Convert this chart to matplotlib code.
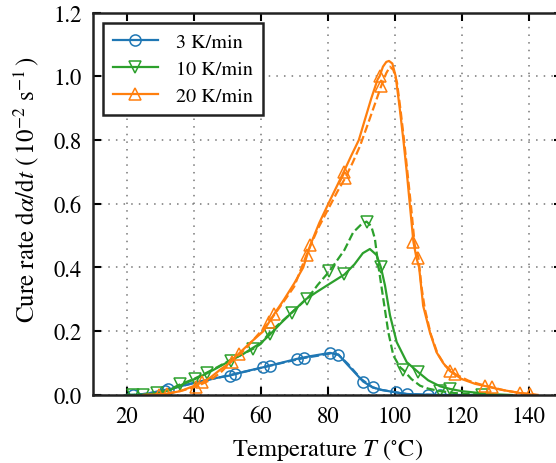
import numpy as np
import matplotlib
matplotlib.use("Agg")
import matplotlib.pyplot as plt

# 3 K/min
t3_solid = [20, 22, 26, 31.4, 36, 40, 45, 50.8, 55, 60.8, 65, 70.7, 75, 80.7, 83.2, 86, 90.6, 93.4, 96, 100.4, 103.6, 110, 113.5, 120, 130]
r3_solid = [0, 0.0, 0.004, 0.014, 0.027, 0.038, 0.05, 0.061, 0.073, 0.087, 0.098, 0.113, 0.122, 0.132, 0.127, 0.094, 0.042, 0.024, 0.016, 0.008, 0.003, 0.001, 0.0, 0, 0]
t3_dash = [20, 22, 26, 32.4, 36, 40, 45, 52.3, 57, 62.8, 67, 72.9, 77, 80.7, 83.2, 86, 90, 93.4, 96, 100, 103.6, 108, 113.5, 120, 130]
r3_dash = [0, 0, 0.004, 0.018, 0.027, 0.037, 0.049, 0.066, 0.077, 0.092, 0.102, 0.116, 0.123, 0.13, 0.126, 0.098, 0.05, 0.024, 0.016, 0.009, 0.003, 0.001, 0.0, 0, 0]
m3_solid = [22, 31.4, 50.8, 60.8, 70.7, 80.7, 90.6, 100.4, 110]
m3_dash = [32.4, 52.3, 62.8, 72.9, 83.2, 93.4, 103.6, 113.5]

# 10 K/min
t10_solid = [20, 25, 29, 33, 36, 40.4, 44, 47, 51, 55, 58.3, 60.3, 62.8, 66, 69.4, 73.7, 77, 80, 85, 88, 90.5, 92.6, 94.6, 95.9,
             97.1, 98.6, 100.6, 103.6, 107.1, 110, 113.6, 116.5, 120, 124.5, 130, 135]
r10_solid = [0, 0.0, 0.004, 0.016, 0.03, 0.05, 0.068, 0.085, 0.108, 0.13, 0.152, 0.165, 0.19, 0.225, 0.26, 0.302, 0.325, 0.345, 0.378, 0.41, 0.445, 0.458, 0.439, 0.40,
             0.344, 0.25, 0.166, 0.103, 0.071, 0.046, 0.027, 0.019, 0.012, 0.007, 0.002, 0]
t10_dash = [20, 22, 25, 29, 33, 35.9, 40, 43.9, 47, 51, 55, 57.8, 60, 62.6, 66, 69.3, 72, 74.5, 77, 80.5, 83, 85, 87.6, 90, 91.6, 93,
            94.1, 95.1, 96.6, 98.1, 99.6, 101.6, 102.6, 105, 107.6, 110, 113.6, 118, 122, 126, 130]
r10_dash = [0, 0, 0.001, 0.005, 0.018, 0.033, 0.05, 0.07, 0.087, 0.11, 0.13, 0.145, 0.16, 0.195, 0.228, 0.258, 0.285, 0.31, 0.345, 0.388, 0.425, 0.455, 0.51, 0.535, 0.544, 0.53,
            0.49, 0.407, 0.302, 0.197, 0.124, 0.087, 0.078, 0.05, 0.029, 0.02, 0.012, 0.006, 0.003, 0.001, 0]
m10_solid = [25, 40.4, 51, 62.8, 73.7, 85, 95.9, 107.1, 116.5]
m10_dash = [22, 29, 35.9, 43.9, 57.8, 69.3, 80.5, 91.6, 102.6, 113.6, 126]

# 20 K/min
t20_solid = [25, 28, 32, 36, 40, 42.6, 45, 48, 50, 53.5, 57, 60.8, 64.1, 67, 70, 72.7, 74.8, 77.5, 80.2, 82.5, 84.8, 87, 89.3, 91, 93,
             94.9, 95.5, 96.5, 97.5, 98.3, 99.3, 100.3, 101.5, 102.6, 103.6, 104.5, 105.6, 106.5, 107.3, 108.5, 110.5, 112.5, 114.5,
             116.5, 120, 124, 127, 132, 137.4, 142]
r20_solid = [0, 0.001, 0.004, 0.012, 0.028, 0.04, 0.055, 0.08, 0.095, 0.13, 0.165, 0.2, 0.255, 0.3, 0.35, 0.4, 0.47, 0.54, 0.6, 0.65, 0.70, 0.75, 0.80, 0.86, 0.93,
             0.99, 1.0, 1.03, 1.045, 1.048, 1.04, 1.0, 0.9, 0.8, 0.7, 0.6, 0.48, 0.43, 0.4, 0.28, 0.197, 0.134, 0.1,
             0.075, 0.05, 0.035, 0.028, 0.016, 0.006, 0]
t20_dash = [25, 29.6, 33, 37, 40.7, 45, 48, 51.3, 55, 58, 62.5, 66, 70, 73.7, 77, 80.5, 83, 85.2, 87.5, 89.6, 92, 94, 96, 97.5, 98.6,
            99.6, 100.7, 101.8, 102.9, 103.9, 104.9, 106, 107.1, 108, 109, 110.8, 112.8, 115, 118, 122, 125, 129, 133, 137, 140.4, 143]
r20_dash = [0, 0.001, 0.006, 0.015, 0.026, 0.047, 0.07, 0.105, 0.14, 0.175, 0.229, 0.28, 0.34, 0.44, 0.52, 0.59, 0.64, 0.68, 0.73, 0.78, 0.85, 0.91, 0.97, 1.01, 1.03,
            1.02, 0.98, 0.89, 0.79, 0.69, 0.59, 0.47, 0.43, 0.34, 0.27, 0.19, 0.13, 0.093, 0.066, 0.045, 0.035, 0.024, 0.014, 0.007, 0.003, 0]
m20_solid = [32, 42.6, 53.5, 64.1, 74.8, 84.8, 95.5, 105.6, 116.5, 127, 137.4]
m20_dash = [29.6, 40.7, 51.3, 62.5, 73.7, 85.2, 96, 107.1, 118, 129, 140.4]

labels = ["3 K/min", "10 K/min", "20 K/min"]

plt.rcParams["font.family"] = "STIXGeneral"
plt.rcParams["mathtext.fontset"] = "stix"
plt.rcParams["font.size"] = 16.3


def mark_idx(t, marks):
    t = np.asarray(t)
    return [int(np.argmin(np.abs(t - m))) for m in marks]


fig = plt.figure(figsize=(5.56, 4.64), dpi=100)
ax = fig.add_axes([0.1676, 0.1466, 0.8435, 0.8243])

series = [
    (t3_solid, r3_solid, m3_solid, t3_dash, r3_dash, m3_dash, "#1f77b4", "o", 8),
    (t10_solid, r10_solid, m10_solid, t10_dash, r10_dash, m10_dash, "#2ca02c", "v", 9),
    (t20_solid, r20_solid, m20_solid, t20_dash, r20_dash, m20_dash, "#ff7f0e", "^", 9),
]

for (ts, rs, ms, td, rd, md, c, mk, msz), lab in zip(series, labels):
    ax.plot(ts, rs, "-", color=c, lw=1.6, marker=mk, ms=msz, mfc="none", mew=1.1,
            markevery=mark_idx(ts, ms), label=lab)
    ax.plot(td, rd, "--", color=c, lw=1.6, marker=mk, ms=msz, mfc="none", mew=1.1,
            markevery=mark_idx(td, md))

ax.set_xlim(10, 150)
ax.set_ylim(0, 1.2)
ax.set_xticks([20, 40, 60, 80, 100, 120, 140])
ax.set_yticks([0.0, 0.2, 0.4, 0.6, 0.8, 1.0, 1.2])
ax.yaxis.set_major_formatter(matplotlib.ticker.FormatStrFormatter("%.1f"))
ax.tick_params(direction="in", length=6, width=1.5, top=True, right=True, pad=8, labelsize=16.3)
ax.grid(True, linestyle=(0, (1, 4)), color="#777777", lw=1.1)
ax.set_axisbelow(True)
for s in ax.spines.values():
    s.set_linewidth(1.8)
    s.set_color("#222222")

ax.set_xlabel(r"Temperature $T$ $\left(^{\circ}\mathrm{C}\right)$", fontsize=17.6, labelpad=6)
ax.set_ylabel(r"Cure rate $\mathrm{d}\alpha/\mathrm{d}t$ $\left(\,10^{-2}\ \mathrm{s}^{-1}\,\right)$",
              fontsize=18)
ax.yaxis.set_label_coords(-0.112, 0.54)

leg = ax.legend(loc="upper left", fancybox=False, framealpha=1, edgecolor="#222222", fontsize=14.5,
                handlelength=2.2, handletextpad=0.9, borderpad=0.5, labelspacing=0.45)
leg.get_frame().set_linewidth(1.8)

fig.savefig("out.png", dpi=100)
